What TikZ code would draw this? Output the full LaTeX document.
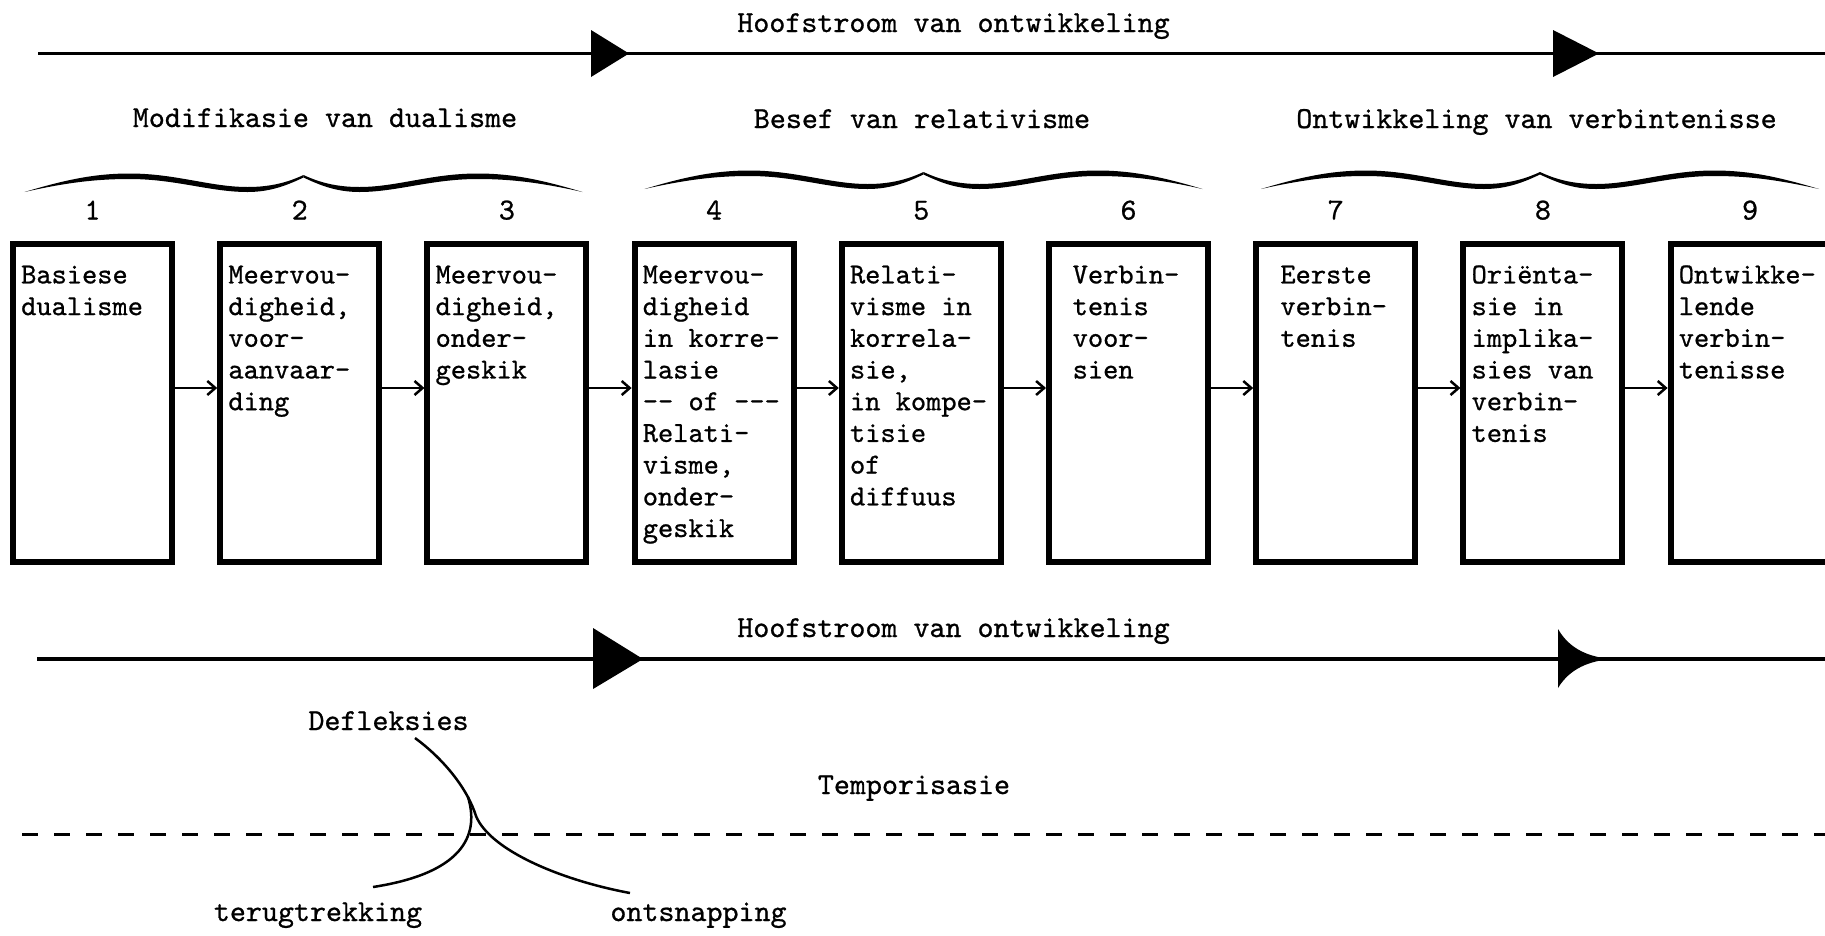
\documentclass[tikz,border=0pt]{standalone}
\usepackage{fontspec}
\setmonofont{lmmono10-regular.otf}[FakeBold=0.8]
\usetikzlibrary{arrows.meta,calc}
\begin{document}
\begin{tikzpicture}[x=1pt,y=-1pt,
  lbl/.style={font=\ttfamily\fontsize{30.5}{32}\selectfont, inner sep=0pt, anchor=base},
  stagebox/.style={draw, line width=6pt, inner sep=0pt, minimum width=159pt, minimum height=318pt},
  boxtext/.style={font=\ttfamily\fontsize{29}{31.7}\selectfont, inner sep=0pt, anchor=north west, align=left},
  flow/.style={line width=2pt, -{Straight Barb[length=8pt,width=14pt,line width=2.5pt]}},
  mainline/.style={line width=3.5pt},
  curvestyle/.style={line width=2.5pt},
  halfbrace/.pic={
    \fill (-279,192) .. controls (-239,180) and (-209,173.5) .. (-174,173.5)
      .. controls (-128,173.5) and (-93,187) .. (-56,187)
      .. controls (-32,187) and (-15,182) .. (0,175)
      -- (0,177.5)
      .. controls (-15,184.5) and (-32,192) .. (-56,192)
      .. controls (-93,192) and (-128,179) .. (-174,179)
      .. controls (-209,179) and (-239,183) .. (-279,192) -- cycle;
  }
]
\useasboundingbox (0,0) rectangle (1825,935);

% top main stream
\node[lbl] (toptitle) at (953.5,32) {Hoofstroom van ontwikkeling};
\coordinate (tl0) at (38,53.5);
\coordinate (tl1) at (1830,53.5);
\draw[mainline] (tl0) -- (tl1);
\fill (591,30) -- (629,53.5) -- (591,77) -- cycle;
\fill (1553,30) -- (1599,53.5) -- (1553,77) -- cycle;

% group labels
\node[lbl] (g1) at (325,127) {Modifikasie van dualisme};
\node[lbl] (g2) at (922,128) {Besef van relativisme};
\node[lbl] (g3) at (1536.5,128) {Ontwikkeling van verbintenisse};

% braces
\pic at (303.5,0) {halfbrace};
\pic[xscale=-1] at (303.5,0) {halfbrace};
\pic at (923.5,-3) {halfbrace};
\pic[xscale=-1] at (923.5,-3) {halfbrace};
\pic at (1540,-3) {halfbrace};
\pic[xscale=-1] at (1540,-3) {halfbrace};

% boxes
\node[stagebox] (b1) at (92.5,402.5) {};
\node[stagebox] (b2) at (299.7,402.5) {};
\node[stagebox] (b3) at (506.9,402.5) {};
\node[stagebox] (b4) at (714.1,402.5) {};
\node[stagebox] (b5) at (921.3,402.5) {};
\node[stagebox] (b6) at (1128.5,402.5) {};
\node[stagebox] (b7) at (1335.7,402.5) {};
\node[stagebox] (b8) at (1542.9,402.5) {};
\node[stagebox] (b9) at (1750.1,402.5) {};

% numbers
\foreach \i in {1,...,9}{
  \node[lbl] (n\i) at ([yshift=21pt]b\i.north) {\i};
}

% box texts
\node[boxtext] (t1) at ([xshift=11pt,yshift=-20.5pt]b1.north west) {\strut Basiese\\dualisme};
\node[boxtext] (t2) at ([xshift=11pt,yshift=-20.5pt]b2.north west) {\strut Meervou-\\digheid,\\voor-\\aanvaar-\\ding};
\node[boxtext] (t3) at ([xshift=11pt,yshift=-20.5pt]b3.north west) {\strut Meervou-\\digheid,\\onder-\\geskik};
\node[boxtext] (t4) at ([xshift=11pt,yshift=-20.5pt]b4.north west) {\strut Meervou-\\digheid\\in korre-\\lasie\\-\kern0pt-\ of -\kern0pt-\kern0pt-\\Relati-\\visme,\\onder-\\geskik};
\node[boxtext] (t5) at ([xshift=11pt,yshift=-20.5pt]b5.north west) {\strut Relati-\\visme in\\korrela-\\sie,\\in kompe-\\tisie\\of\\diffuus};
\node[boxtext] (t6) at ([xshift=26.5pt,yshift=-20.5pt]b6.north west) {\strut Verbin-\\tenis\\voor-\\sien};
\node[boxtext] (t7) at ([xshift=27pt,yshift=-20.5pt]b7.north west) {\strut Eerste\\verbin-\\tenis};
\node[boxtext] (t8) at ([xshift=11pt,yshift=-20.5pt]b8.north west) {\strut Ori\"enta-\\sie in\\implika-\\sies van\\verbin-\\tenis};
\node[boxtext] (t9) at ([xshift=11pt,yshift=-20.5pt]b9.north west) {\strut Ontwikke-\\lende\\verbin-\\tenisse};

% arrows between boxes
\coordinate (alevel) at (0,388);
\foreach \i [count=\j from 2] in {1,...,8}{
  \draw[flow] (b\i.east |- alevel) -- (b\j.west |- alevel);
}

% bottom main stream
\node[lbl] (bottitle) at (953.5,637) {Hoofstroom van ontwikkeling};
\coordinate (bl0) at (37,659);
\coordinate (bl1) at (1830,659);
\draw[line width=3.8pt] (bl0) -- (bl1);
\fill (593,628) -- (643,659) -- (593,689) -- cycle;
\fill (1558,629) .. controls (1570,650) and (1590,657) .. (1611,659)
  .. controls (1590,661) and (1570,668) .. (1558,688) -- cycle;

% deflections
\node[lbl] (defl) at (388.5,730) {Defleksies};
\node[lbl] (temp) at (914,794) {Temporisasie};
\node[lbl] (terug) at (318,921) {terugtrekking};
\node[lbl] (ontsn) at (698.5,921) {ontsnapping};
\coordinate (dl0) at (22,834);
\coordinate (dl1) at (1830,834);
\draw[line width=3pt, dash pattern=on 16pt off 16pt] (dl0) -- (dl1);
\draw[curvestyle] (415,738) .. controls (445,760) and (468,790) .. (476,816)
  .. controls (490,850) and (560,880) .. (630,893);
\draw[curvestyle] (468,797) .. controls (478,830) and (470,872) .. (373,887);
\end{tikzpicture}
\end{document}
